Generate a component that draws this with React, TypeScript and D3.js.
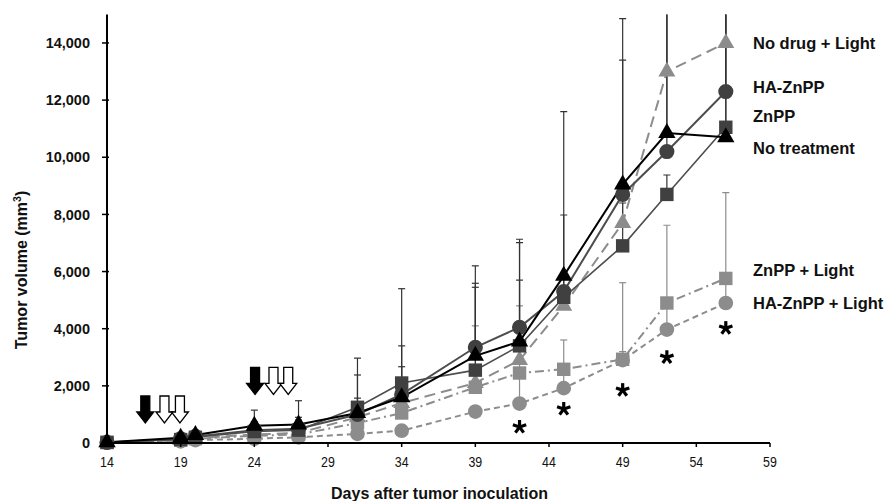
import React, { useEffect, useRef } from "react";
import * as d3 from "d3";

// measurement days
const days = [14, 19, 20, 24, 27, 31, 34, 39, 42, 45, 49, 52, 56];

// mean tumor volume (mm3) per group
const noTreatment = [30, 180, 280, 600, 650, 1050, 1600, 3050, 3550, 5850, 9050, 10850, 10700];
const haZnpp = [20, 150, 230, 450, 500, 1000, 1700, 3350, 4050, 5300, 8700, 10200, 12300];
const znpp = [20, 120, 200, 400, 450, 1250, 2100, 2550, 3400, 5100, 6900, 8700, 11050];
const noDrugLight = [20, 100, 160, 300, 350, 900, 1400, 2100, 2900, 4800, 7700, 13000, 14000];
const znppLight = [20, 100, 150, 250, 300, 700, 1050, 1950, 2450, 2580, 2930, 4900, 5760];
const haZnppLight = [10, 60, 100, 150, 200, 320, 430, 1100, 1380, 1920, 2900, 3970, 4900];

// upper error (SD)
const noTreatmentErr = [0, 150, 150, 550, 830, 1330, 1070, 2540, 3460, 5750, 5800, 4500, 5000];
const haZnppErr = [0, 100, 100, 300, 400, 570, 1700, 2850, 3080, 600, 4700, 5500, 4000];
const znppErr = [0, 100, 100, 250, 350, 1720, 3300, 2900, 2300, 2880, 1500, 680, 5000];
const noDrugLightErr = [0, 80, 80, 150, 200, 300, 400, 2000, 1900, 500, 1000, 2500, 2000];
const znppLightErr = [0, 50, 50, 100, 150, 250, 300, 200, 300, 1025, 2680, 2720, 3000];
const haZnppLightErr = [0, 30, 30, 50, 80, 100, 150, 150, 1050, 650, 300, 800, 700];

const yTicks = [0, 2000, 4000, 6000, 8000, 10000, 12000, 14000];
const xTicks = [14, 19, 24, 29, 34, 39, 44, 49, 54, 59];

// treatment arrows: drug (black) and light (white)
const arrowDays = [16.6, 17.9, 18.95, 24.05, 25.3, 26.3];
const arrowKinds = ["drug", "light", "light", "drug", "light", "light"];
const arrowLevels = [700, 700, 700, 1700, 1700, 1700];

// significance marks
const sigDays = [42, 45, 49, 52, 56];
const sigLevels = [560, 1190, 1850, 3000, 4020];

const DARK = "#404040";
const LIGHT = "#8c8c8c";

const series = [
  { name: "HA-ZnPP + Light", values: haZnppLight, errors: haZnppLightErr, color: LIGHT, line: LIGHT, width: 2, dash: "6,4", symbol: d3.symbolCircle, size: 170, nudge: 0 },
  { name: "ZnPP + Light", values: znppLight, errors: znppLightErr, color: LIGHT, line: LIGHT, width: 2, dash: "9,4,2,4", symbol: d3.symbolSquare, size: 180, nudge: -8 },
  { name: "No drug + Light", values: noDrugLight, errors: noDrugLightErr, color: LIGHT, line: LIGHT, width: 2, dash: "11,6", symbol: d3.symbolTriangle, size: 125, nudge: 0 },
  { name: "ZnPP", values: znpp, errors: znppErr, color: DARK, line: "#4d4d4d", width: 1.6, dash: null, symbol: d3.symbolSquare, size: 180, nudge: -11 },
  { name: "HA-ZnPP", values: haZnpp, errors: haZnppErr, color: DARK, line: "#4d4d4d", width: 2, dash: null, symbol: d3.symbolCircle, size: 180, nudge: -4 },
  { name: "No treatment", values: noTreatment, errors: noTreatmentErr, color: "#000", line: "#000", width: 2, dash: null, symbol: d3.symbolTriangle, size: 130, nudge: 11 },
];

const W = 887;
const H = 501;
const FONT = "'Liberation Sans', Arial, Helvetica, sans-serif";

const TumorChart = () => {
  const svgRef = useRef<SVGSVGElement>(null);

  useEffect(() => {
    const svg = d3.select(svgRef.current);
    svg.selectAll("*").remove();

    const x = d3.scaleLinear().domain([14, 59]).range([107, 770]);
    const y = d3.scaleLinear().domain([0, 15000]).range([443, 14.4]);

    svg
      .append("defs")
      .append("clipPath")
      .attr("id", "plot-clip")
      .append("rect")
      .attr("x", 95)
      .attr("y", y(15000))
      .attr("width", 700)
      .attr("height", y(0) - y(15000) + 10);

    // error bars
    const errG = svg.append("g").attr("clip-path", "url(#plot-clip)");
    series.forEach((s) => {
      days.forEach((d, i) => {
        if (!s.errors[i]) return;
        const top = s.values[i] + s.errors[i];
        const stroke = s.color === LIGHT ? LIGHT : "#333";
        errG
          .append("line")
          .attr("x1", x(d))
          .attr("x2", x(d))
          .attr("y1", y(s.values[i]))
          .attr("y2", y(top))
          .attr("stroke", stroke)
          .attr("stroke-width", 1.2);
        errG
          .append("line")
          .attr("x1", x(d) - 3.5)
          .attr("x2", x(d) + 3.5)
          .attr("y1", y(top))
          .attr("y2", y(top))
          .attr("stroke", stroke)
          .attr("stroke-width", 1.2);
      });
    });

    // lines + markers
    const line = d3
      .line<number>()
      .x((_, i) => x(days[i]))
      .y((v) => y(v));

    series.forEach((s) => {
      svg
        .append("path")
        .attr("d", line(s.values))
        .attr("fill", "none")
        .attr("stroke", s.line)
        .attr("stroke-width", s.width)
        .attr("stroke-dasharray", s.dash);
    });
    series.forEach((s) => {
      const sym = d3.symbol().type(s.symbol).size(s.size);
      svg
        .append("g")
        .selectAll("path")
        .data(s.values)
        .enter()
        .append("path")
        .attr("d", sym)
        .attr("transform", (v, i) => `translate(${x(days[i])},${y(v)})`)
        .attr("fill", s.color);
    });

    // axes
    const axis = svg.append("g").attr("stroke", "#000").attr("stroke-width", 2);
    axis.append("line").attr("x1", x(14)).attr("x2", x(14)).attr("y1", y(15000)).attr("y2", y(0) + 1);
    axis.append("line").attr("x1", x(14) - 1).attr("x2", x(59)).attr("y1", y(0)).attr("y2", y(0));
    yTicks.forEach((t) => {
      axis.append("line").attr("x1", x(14) - 5).attr("x2", x(14) + 2).attr("y1", y(t)).attr("y2", y(t)).attr("stroke-width", 1.5);
    });
    xTicks.forEach((t) => {
      axis.append("line").attr("x1", x(t)).attr("x2", x(t)).attr("y1", y(0)).attr("y2", y(0) + 4).attr("stroke-width", 1.5);
    });

    svg
      .append("g")
      .selectAll("text")
      .data(yTicks)
      .enter()
      .append("text")
      .attr("x", x(14) - 17)
      .attr("y", (t) => y(t))
      .attr("dy", "0.36em")
      .attr("text-anchor", "end")
      .attr("font-family", FONT)
      .attr("font-weight", "bold")
      .attr("font-size", 14.5)
      .attr("fill", "#111")
      .text((t) => d3.format(",")(t));

    // narrow-looking day labels
    svg
      .append("g")
      .selectAll("text")
      .data(xTicks)
      .enter()
      .append("text")
      .attr("transform", (t) => `translate(${x(t)},${y(0) + 24}) scale(0.8,1)`)
      .attr("text-anchor", "middle")
      .attr("font-family", FONT)
      .attr("font-size", 15.5)
      .attr("fill", "#111")
      .text((t) => t);

    // axis titles
    svg
      .append("text")
      .attr("x", (x(14) + x(59)) / 2 + 1)
      .attr("y", 499)
      .attr("text-anchor", "middle")
      .attr("font-family", FONT)
      .attr("font-weight", "bold")
      .attr("font-size", 16)
      .attr("fill", "#111")
      .text("Days after tumor inoculation");

    const yt = svg
      .append("text")
      .attr("transform", "translate(27,270) rotate(-90)")
      .attr("text-anchor", "middle")
      .attr("font-family", FONT)
      .attr("font-weight", "bold")
      .attr("font-size", 16)
      .attr("fill", "#111");
    yt.append("tspan").text("Tumor volume (mm");
    yt.append("tspan").attr("font-size", 10.5).attr("dy", -6).text("3");
    yt.append("tspan").attr("dy", 6).text(")");

    // series labels at the end of each line
    series.forEach((s) => {
      svg
        .append("text")
        .attr("x", 753)
        .attr("y", y(s.values[s.values.length - 1]) + s.nudge)
        .attr("dy", "0.36em")
        .attr("font-family", FONT)
        .attr("font-weight", "bold")
        .attr("font-size", 16.5)
        .attr("fill", "#111")
        .text(s.name);
    });

    // treatment arrows
    arrowDays.forEach((d, i) => {
      const cx = x(d);
      const tip = y(arrowLevels[i]);
      const h = 27, hh = 11, sw = 4.5, hw = 8.5;
      const p = [
        [cx - sw, tip - h],
        [cx + sw, tip - h],
        [cx + sw, tip - hh],
        [cx + hw, tip - hh],
        [cx, tip],
        [cx - hw, tip - hh],
        [cx - sw, tip - hh],
      ];
      svg
        .append("path")
        .attr("d", "M" + p.map((q) => q.join(",")).join("L") + "Z")
        .attr("fill", arrowKinds[i] === "drug" ? "#000" : "#fff")
        .attr("stroke", "#000")
        .attr("stroke-width", 1.3)
        .attr("stroke-linejoin", "miter");
    });

    // asterisks
    sigDays.forEach((d, i) => {
      const cx = x(d);
      const cy = y(sigLevels[i]);
      const g = svg.append("g").attr("transform", `translate(${cx},${cy})`);
      [-90, -18, 54, 126, 198].forEach((a) => {
        const r = (a * Math.PI) / 180;
        g.append("line")
          .attr("x1", 0)
          .attr("y1", 0)
          .attr("x2", Math.cos(r) * 7)
          .attr("y2", Math.sin(r) * 7)
          .attr("stroke", "#000")
          .attr("stroke-width", 3.2);
      });
    });
  }, []);

  return (
    <svg
      ref={svgRef}
      width={W}
      height={H}
      style={{ position: "absolute", left: 0, top: 0, background: "#fff" }}
    />
  );
};

export default function App() {
  return <TumorChart />;
}
